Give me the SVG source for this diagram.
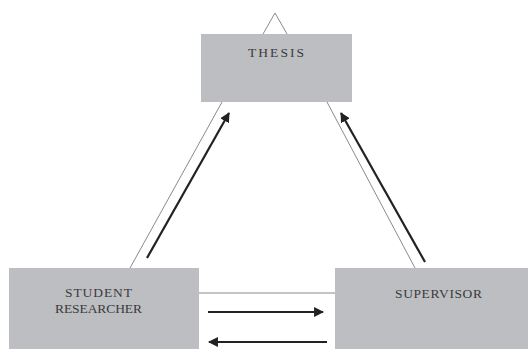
<svg xmlns="http://www.w3.org/2000/svg" width="528" height="349" viewBox="0 0 528 349">
<defs>
<style>
.box{fill:#bdbec1;}
.lbl{font-family:"Liberation Serif","Times New Roman",serif;font-size:13.5px;fill:#3a3a3c;}
.thin{stroke:#8a8a8a;stroke-width:1;fill:none;}
.thick{stroke:#222;stroke-width:2.2;fill:none;marker-end:url(#ah);}
</style>
<marker id="ah" viewBox="0 0 10 10" refX="9" refY="5" markerWidth="4.5" markerHeight="4.5" orient="auto" markerUnits="strokeWidth">
<path d="M0,0 L10,5 L0,10 z" fill="#222"/>
</marker>
</defs>
<rect width="528" height="349" fill="#fff"/>
<g id="connectors">
<polyline class="thin" points="263,34 275,13 287,34"/>
<line class="thin" x1="130" y1="268" x2="222" y2="102"/>
<line class="thin" x1="327" y1="102" x2="415" y2="268"/>
<line class="thin" x1="199" y1="293" x2="335" y2="293"/>
<line class="thick" x1="147" y1="258" x2="229" y2="113"/>
<line class="thick" x1="425" y1="262" x2="341" y2="113"/>
<line class="thick" x1="208" y1="312" x2="323" y2="312"/>
<line class="thick" x1="327" y1="342" x2="209" y2="342"/>
</g>
<g id="thesis">
<rect class="box" x="201" y="34" width="151" height="68"/>
<text class="lbl" x="248" y="57" font-size="14.5" textLength="56" lengthAdjust="spacing">THESIS</text>
</g>
<g id="student">
<rect class="box" x="9" y="268" width="190" height="81"/>
<text class="lbl" x="65" y="297" textLength="67" lengthAdjust="spacing">STUDENT</text>
<text class="lbl" x="55" y="313" textLength="87" lengthAdjust="spacing">RESEARCHER</text>
</g>
<g id="supervisor">
<rect class="box" x="335" y="268" width="193" height="81"/>
<text class="lbl" x="395" y="298" textLength="87" lengthAdjust="spacing">SUPERVISOR</text>
</g>
</svg>
